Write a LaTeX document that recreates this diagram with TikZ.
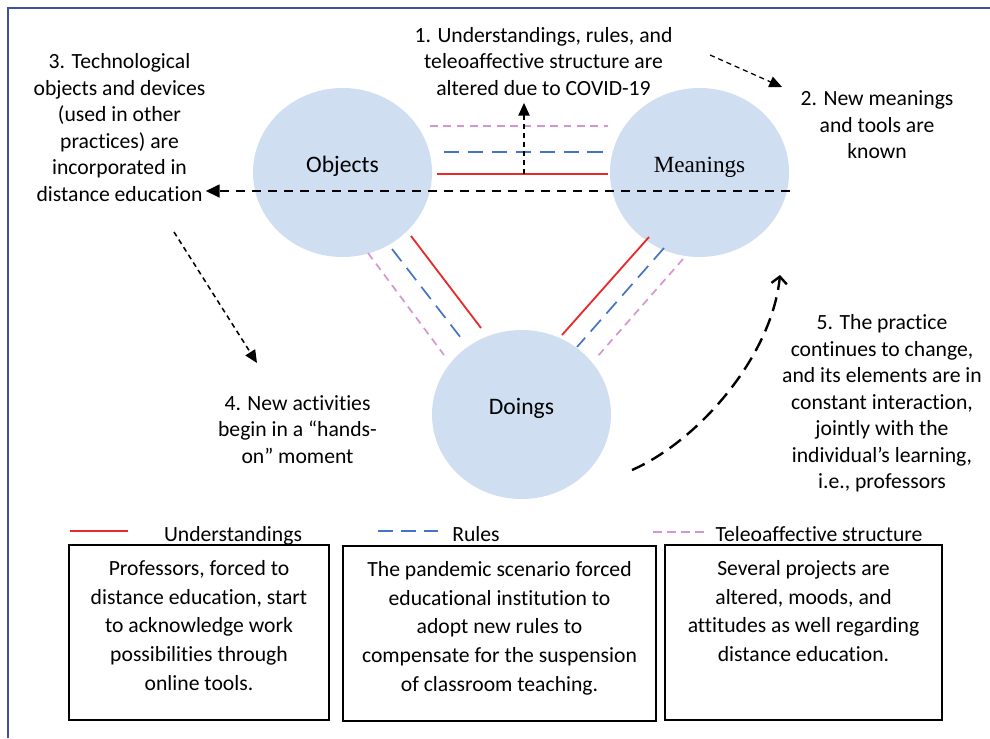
\documentclass[tikz,border=0pt]{standalone}
\usepackage{fontspec}
\setmainfont{Carlito}[Ligatures=NoCommon]
\newfontfamily\serifname{Liberation Serif}
\usetikzlibrary{arrows.meta,calc,positioning,shapes.geometric}

\definecolor{phasefill}{RGB}{207,223,241}
\definecolor{undred}{RGB}{232,42,42}
\definecolor{rulblue}{RGB}{68,114,196}
\definecolor{telpink}{RGB}{212,150,206}
\definecolor{framebl}{RGB}{62,82,160}

\newcommand{\notefont}{\fontsize{15.4}{18.85}\selectfont}
\newcommand{\cardfont}{\fontsize{15.4}{20.4}\selectfont}

\begin{document}
\begin{tikzpicture}[
    x=0.025cm, y=-0.025cm,
    phase/.style={
        ellipse, fill=phasefill, inner sep=0pt,
        minimum width=4.475cm, minimum height=4.225cm,
        font=\fontsize{16.8}{20}\selectfont,
        text height=6pt, text depth=6pt
    },
    note/.style={align=center, inner sep=0pt, font=\notefont},
    legend/.style={anchor=base, inner sep=0pt, font=\notefont},
    card/.style={draw=black, line width=1pt, minimum height=4.375cm, inner sep=0pt},
    cardtext/.style={align=center, inner sep=0pt, font=\cardfont},
    und/.style={undred, line width=1.3pt},
    rul/.style={rulblue, line width=1.2pt, dash pattern=on 11pt off 6pt},
    tel/.style={telpink, line width=1.2pt, dash pattern=on 5.5pt off 4pt},
    thinarr/.style={-{Triangle[length=9pt,width=8pt]}, line width=0.9pt,
        dash pattern=on 3.6pt off 2.8pt},
    thickarr/.style={-{Triangle[length=10pt,width=9pt]}, line width=1.9pt,
        dash pattern=on 6.4pt off 5pt},
    curvarr/.style={-{Straight Barb[length=5pt,width=11pt]}, line width=1.7pt,
        dash pattern=on 10pt off 5.5pt},
    frame/.style={framebl, line width=1.1pt}
]
\useasboundingbox (0,0) rectangle (990,738);
\draw[frame] (8,738) -- (8,8) -- (990,8);

% --- Elements of the practice ---
\node[phase] (obj) at (342.5,172.5) {Objects};
\node[phase, font=\serifname\fontsize{16.5}{20}\selectfont] (mea) at (699.5,172.5) {Meanings};
\node[phase] (doi) at (521.5,414.5) {Doings};

% --- Links (understandings, rules, teleoaffective structure) ---
\draw[tel] ($(obj)+(87.5,-46.5)$) -- ($(mea)+(-91.5,-46.5)$);
\draw[rul] ($(obj)+(101.5,-20.5)$) -- ($(mea)+(-92.5,-20.5)$);
\draw[und] ($(obj)+(94.5,1.5)$) -- ($(mea)+(-91.5,1.5)$);

\draw[und] ($(obj)+(68.5,63.5)$) -- ($(doi)+(-40.5,-86.5)$);
\draw[rul] ($(obj)+(49.5,76.5)$) -- ($(doi)+(-60.5,-76.5)$);
\draw[tel] ($(obj)+(25.5,80.5)$) -- ($(doi)+(-77.5,-59.5)$);

\draw[und] ($(mea)+(-50.5,64.5)$) -- ($(doi)+(40.5,-79.5)$);
\draw[rul] ($(mea)+(-35.5,75.5)$) -- ($(doi)+(55.5,-67.5)$);
\draw[tel] ($(mea)+(-16.5,86.5)$) -- ($(doi)+(75.5,-57.5)$);

% --- Steps ---
\node[note] (n1) at (543.5,61.5) {1. Understandings, rules, and\\teleoaffective structure are\\altered due to COVID-19};
\node[note] (n2) at (877,125) {2. New meanings\\and tools are\\known};
\node[note] (n3) at (119.5,127.5) {3. Technological\\objects and devices\\(used in other\\practices) are\\incorporated in\\distance education};
\node[note] (n4) at (297.5,429.5) {4. New activities\\begin in a “hands-\\on” moment};
\node[note] (n5) at (882,403.5) {5. The practice\\continues to change,\\and its elements are in\\constant interaction,\\jointly with the\\individual’s learning,\\i.e., professors};

% --- Arrows ---
\coordinate (up1) at (524,174);
\draw[thinarr, shorten >=5pt] (up1) -- (up1 |- n1.south);

\coordinate (a2s) at (710,55);
\coordinate (a2e) at (782,87);
\draw[thinarr] (a2s) -- (a2e);

\coordinate (hs) at (790,191);
\draw[thickarr] (hs) -- (n3.east |- hs);

\coordinate (a4s) at (174,232);
\coordinate (a4e) at (257,363);
\draw[thinarr, line width=1.1pt] (a4s) -- (a4e);

\coordinate (c5s) at (632,470);
\coordinate (c5e) at (780,275);
\draw[curvarr] (c5s) .. controls (700,440) and (772,355) .. (c5e);

% --- Legend ---
\draw[und] (70,531) -- (128,531);
\node[legend] (lund) at (233,541) {Understandings};
\draw[rul, dash pattern=on 10.7pt off 5.7pt] (378,531) -- (438,531);
\node[legend] (lrul) at (476,541) {Rules};
\draw[tel, dash pattern=on 6.4pt off 3.5pt] (653,532) -- (707,532);
\node[legend] (ltel) at (819,541) {Teleoaffective structure};

% --- Descriptions ---
\node[card, minimum width=6.5cm] (ucard) at (199,632.5) {};
\node[cardtext, below=0.4cm of ucard.north] (utext) {Professors, forced to\\distance education, start\\to acknowledge work\\possibilities through\\online tools.};

\node[card, minimum width=7.825cm] (rcard) at (499.5,633.5) {};
\node[cardtext, below=0.4cm of rcard.north] (rtext) {The pandemic scenario forced\\educational institution to\\adopt new rules to\\compensate for the suspension\\of classroom teaching.};

\node[card, minimum width=6.925cm] (tcard) at (803.5,632.5) {};
\node[cardtext, below=0.4cm of tcard.north] (ttext) {Several projects are\\altered, moods, and\\attitudes as well regarding\\distance education.};

\end{tikzpicture}
\end{document}
